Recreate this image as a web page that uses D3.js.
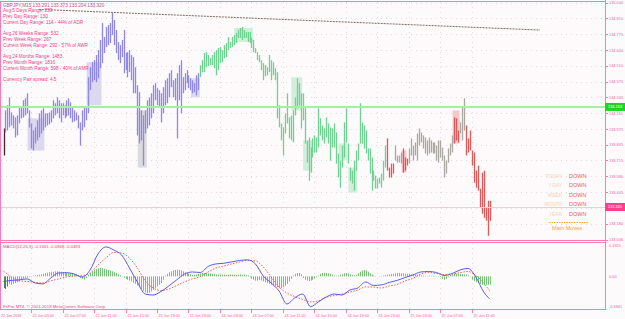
<!DOCTYPE html>
<html><head><meta charset="utf-8">
<script src="https://cdn.jsdelivr.net/npm/d3@7"></script>
<style>html,body{margin:0;padding:0;background:#fdfafc;overflow:hidden}svg{display:block}</style>
</head><body><svg id="c" width="625" height="319"></svg>
<script>
// ---------- DATA ----------
const highs = [
133.982,134.134,134.177,134.244,134.117,134.092,134.075,134.092,134.160,134.160,
134.219,134.236,134.278,134.134,134.024,133.965,133.991,134.050,134.109,134.134,
134.151,134.109,134.109,134.117,134.134,134.219,134.194,134.244,134.219,134.194,
134.194,134.177,134.219,134.236,134.202,134.160,134.134,134.117,134.092,134.033,
134.134,134.160,134.160,134.414,134.498,134.540,134.557,134.600,134.642,134.727,
134.870,134.752,134.837,134.853,134.870,134.955,134.896,134.811,134.710,134.684,
134.727,134.811,134.617,134.625,134.642,134.600,134.583,134.498,134.346,134.287,
134.134,134.092,134.134,134.219,134.244,134.278,134.346,134.363,134.321,134.304,
134.278,134.329,134.388,134.405,134.447,134.473,134.388,134.405,134.447,134.515,
134.557,134.414,134.447,134.473,134.430,134.405,134.388,134.363,134.430,134.447,
134.515,134.557,134.617,134.625,134.600,134.574,134.600,134.625,134.642,134.659,
134.667,134.642,134.684,134.701,134.752,134.710,134.752,134.769,134.786,134.811,
134.828,134.837,134.811,134.794,134.794,134.794,134.744,134.727,134.659,134.625,
134.600,134.557,134.532,134.515,134.498,134.600,134.557,134.540,134.490,134.456,
134.177,134.024,133.991,134.109,134.278,134.075,134.092,134.134,134.244,134.405,
134.363,134.278,134.278,134.160,133.881,133.906,133.821,133.898,133.923,133.906,
134.151,134.067,134.007,133.982,134.075,134.024,133.991,133.982,134.024,133.948,
133.771,133.711,133.838,134.033,134.151,133.855,133.652,133.627,133.711,133.796,
133.855,134.194,134.033,134.007,133.965,133.813,133.813,133.737,133.627,133.584,
133.559,133.568,133.601,133.711,133.838,133.898,133.652,133.686,133.686,133.838,
133.754,133.754,133.779,133.813,133.737,133.728,133.813,133.898,133.838,133.864,
133.940,133.982,133.948,133.923,133.906,133.881,133.906,133.881,133.864,133.864,
133.838,133.881,133.881,133.821,133.754,133.711,133.813,133.855,133.923,134.075,
134.067,133.965,134.033,134.160,134.236,134.007,133.898,133.965,133.796,133.779,
133.627,133.669,133.475,133.610,133.627,133.314,133.373,133.373];
const lows = [
133.754,133.948,133.965,133.991,134.007,133.982,133.906,133.923,134.024,134.067,
134.075,134.092,134.109,133.991,133.813,133.796,133.855,133.881,133.906,133.940,
133.965,133.991,134.007,134.016,134.033,134.067,134.092,134.109,134.067,134.033,
134.092,134.067,134.084,134.092,134.067,134.033,134.041,134.050,133.982,133.838,
133.965,133.991,134.050,134.109,134.304,134.371,134.388,134.371,134.405,134.490,
134.532,134.617,134.667,134.684,134.701,134.769,134.684,134.617,134.557,134.532,
134.583,134.447,134.473,134.414,134.456,134.388,134.278,134.278,133.923,133.855,
133.881,133.669,133.940,133.982,134.007,134.067,134.109,134.219,134.177,134.160,
134.033,134.109,134.177,134.194,134.244,134.329,134.244,134.219,133.898,134.219,
134.109,134.278,134.304,134.363,134.321,134.304,134.278,134.287,134.261,134.304,
134.414,134.456,134.456,134.498,134.507,134.515,134.515,134.490,134.430,134.473,
134.532,134.540,134.574,134.583,134.642,134.659,134.667,134.684,134.701,134.744,
134.744,134.727,134.744,134.744,134.710,134.701,134.659,134.625,134.617,134.557,
134.540,134.473,134.388,134.422,134.430,134.456,134.388,134.430,134.388,134.067,
133.991,133.881,133.754,133.940,134.024,133.898,133.881,133.864,134.092,134.151,
134.177,133.982,134.050,133.855,133.694,133.542,133.610,133.737,133.779,133.779,
133.821,133.923,133.881,133.855,133.906,133.855,133.711,133.821,133.821,133.686,
133.568,133.483,133.652,133.737,133.864,133.686,133.542,133.517,133.458,133.627,
133.711,133.855,133.855,133.813,133.771,133.711,133.601,133.458,133.542,133.475,
133.475,133.517,133.483,133.542,133.652,133.627,133.568,133.568,133.601,133.711,
133.694,133.694,133.686,133.610,133.627,133.669,133.686,133.754,133.711,133.754,
133.711,133.838,133.864,133.813,133.771,133.754,133.771,133.779,133.771,133.771,
133.711,133.694,133.737,133.711,133.568,133.601,133.694,133.754,133.779,133.855,
133.881,133.864,133.940,133.881,133.965,133.754,133.779,133.796,133.669,133.525,
133.483,133.458,133.314,133.263,133.229,133.204,133.077,133.204];
// bar colour state segments [firstBar, lastBar, state]
const barStates = [[0,0,'start'],[1,99,'p'],[100,194,'g'],[195,198,'r'],[199,202,'n'],[203,205,'r'],[206,228,'n'],[229,231,'r'],[232,234,'n'],[235,247,'r']];
// pale shadow boxes [firstBar, lastBar, high, low, state]
const shadowBoxes = [[13,20,134.067,133.796,'p'],[43,49,134.540,134.177,'p'],[69,72,134.134,133.652,'n'],[96,99,134.405,134.244,'p'],
  [118,126,134.828,134.710,'g'],[147,151,134.414,134.134,'g'],[153,156,133.881,133.627,'g'],[171,174,133.855,133.711,'g'],
  [176,179,133.652,133.441,'g'],[203,204,133.796,133.610,'r'],[229,231,134.134,133.855,'r']];
const osma = [
-0.070,-0.075,-0.060,-0.045,-0.050,-0.045,-0.040,-0.035,-0.030,-0.020,
-0.015,-0.010,-0.008,-0.005,0.002,0.004,0.006,0.008,0.010,0.012,
0.015,0.020,0.022,0.025,0.027,0.028,0.030,0.030,0.028,0.027,
0.025,0.025,0.022,0.020,0.020,0.018,0.015,0.012,0.008,-0.010,
-0.015,-0.018,-0.010,0.010,0.020,0.030,0.038,0.044,0.048,0.050,
0.048,0.045,0.042,0.038,0.035,0.030,0.025,0.020,0.012,0.006,
0.002,-0.008,-0.015,-0.020,-0.025,-0.030,-0.038,-0.045,-0.055,-0.065,
-0.075,-0.085,-0.095,-0.100,-0.098,-0.090,-0.080,-0.070,-0.060,-0.050,
-0.040,-0.020,0.005,0.015,0.025,0.030,0.035,0.038,0.040,0.038,
0.035,0.030,0.025,0.020,0.015,0.012,0.010,0.010,0.012,0.015,
0.018,0.020,0.020,0.020,0.018,0.018,0.015,0.015,0.012,0.012,
0.010,0.010,0.010,0.008,0.010,0.012,0.010,0.010,0.008,0.010,
0.012,0.010,0.010,0.008,0.006,-0.005,-0.015,-0.020,-0.025,-0.025,
-0.022,-0.025,-0.030,-0.035,-0.040,-0.045,-0.050,-0.055,-0.060,-0.065,
-0.070,-0.070,-0.065,-0.055,-0.045,-0.030,-0.015,0.005,0.015,0.020,
0.020,0.012,-0.010,-0.020,-0.025,-0.028,-0.025,-0.020,-0.012,-0.005,
0.005,0.015,0.020,0.022,0.020,0.018,0.015,0.010,0.006,0.004,
0.006,0.010,0.012,0.018,0.020,0.018,0.012,0.008,0.006,0.010,
0.018,0.028,0.035,0.038,0.035,0.028,0.018,0.010,0.005,0.002,
0.000,-0.003,0.002,0.005,0.008,0.010,0.012,0.014,0.016,0.018,
0.020,0.020,0.018,0.018,0.016,0.015,0.014,0.012,0.012,0.010,
0.010,0.008,0.006,0.004,0.003,0.003,0.004,0.003,0.002,0.002,
0.002,0.001,-0.004,-0.015,-0.020,-0.015,-0.005,0.008,0.012,0.015,
0.016,0.015,0.015,0.014,0.012,0.010,0.006,0.002,-0.020,-0.028,
-0.035,-0.040,-0.045,-0.050,-0.052,-0.050,-0.050,-0.049];
// MACD main / signal sampled every 4th bar (plus the last bar)
const macdBars = d3.range(0, 245, 4).concat([247]);
const macdMain = [-0.030,-0.024,-0.021,-0.015,-0.039,-0.045,-0.010,0.020,0.022,0.014,-0.004,0.038,0.133,0.175,0.157,0.127,0.050,-0.033,-0.105,-0.111,-0.090,-0.057,-0.021,0.014,0.026,0.023,0.059,0.074,0.078,0.086,0.095,0.098,0.074,0.002,-0.039,-0.087,-0.164,-0.128,-0.105,-0.180,-0.152,-0.123,-0.105,-0.111,-0.081,-0.069,-0.033,-0.054,-0.051,-0.036,-0.024,-0.007,0.008,0.026,0.029,0.023,0.005,0.017,0.038,0.047,-0.004,-0.093,-0.134];
const macdSignal = [0.032,-0.004,-0.027,-0.030,-0.036,-0.039,-0.027,-0.015,-0.004,0.002,0.005,0.020,0.068,0.109,0.142,0.139,0.109,0.050,-0.027,-0.069,-0.084,-0.075,-0.054,-0.033,-0.015,-0.001,0.026,0.050,0.062,0.074,0.086,0.095,0.092,0.056,-0.004,-0.063,-0.099,-0.120,-0.137,-0.152,-0.146,-0.123,-0.114,-0.105,-0.093,-0.081,-0.063,-0.063,-0.069,-0.057,-0.048,-0.027,-0.012,0.014,0.023,0.017,0.011,0.014,0.022,0.029,0.005,-0.039,-0.085];
const priceTicks = [135.040,134.910,134.775,134.640,134.510,134.375,134.245,134.110,133.975,133.845,133.715,133.580,133.445,133.315,133.180,133.046];
const timeTicks = [[0,"22 Jun 2018"],[14,"22 Jun 03:00"],[30,"22 Jun 07:00"],[46,"22 Jun 11:00"],[62,"22 Jun 15:00"],[78,"22 Jun 19:00"],[94,"22 Jun 23:00"],
  [110,"24 Jun 03:00"],[126,"24 Jun 07:00"],[142,"24 Jun 11:00"],[158,"24 Jun 15:00"],[174,"24 Jun 19:00"],[190,"24 Jun 23:00"],
  [206,"25 Jun 03:00"],[222,"25 Jun 07:00"],[238,"25 Jun 11:00"]];
const macdTicks = [[0.1925,"0.1925"],[0,"0.00"],[-0.1941,"-0.1941"]];
const levelLine = 134.163;   // horizontal level
const bidPrice = 133.320;
const trendPoints = [[18,134.985],[272.6,134.811]];
const headerText = "GBPJPY,M15  133.291 133.373 133.204 133.320";
const infoLines = [["Avg 5 Days Range: 259",0],["Prev Day Range: 130",1],["Current Day Range: 114 - 44% of ADR",2],
  ["Avg 26 Weeks Range: 532",4],["Prev Week Range: 267",5],["Current Week Range: 292 - 57% of AWR",6],
  ["Avg 24 Months Range: 1483",8],["Prev Month Range: 1816",9],["Current Month Range: 598 - 40% of AMR",10],
  ["Currency Pair spread: 4.5",12]];
const moveLabels = ["TODAY","Y-DAY","WEEK","MONTH","YEAR"];
const moveStates = ["DOWN","DOWN","DOWN","DOWN","DOWN"];
const macdTitle = "MACD(12,26,9) -0.1341 -0.0848 -0.0493";
const copyright = "FxPro MT4, © 2001-2018 MetaQuotes Software Corp.";

// ---------- STYLE ----------
const FONT = "'Liberation Sans', Arial, sans-serif";
const PINK = "#ff7ab6", TXT = "#ee3f8d", AX = "#f25c9f";
const stateColor = {start:'#4a1e2c', p:'#9088e2', g:'#70d292', r:'#e25858', n:'#a9a9a2'};
const boxColor = {p:'#dcd8ef', g:'#d2eedb', r:'#f4c9c9', n:'#dddcdc'};

const svg = d3.select('#c');
const W = 625, H = 319, R = 605;
const xs = d3.scaleLinear().domain([0, highs.length - 1]).range([3.5, 489.6]);
const ys = d3.scaleLinear().domain([133.042, 135.064]).range([240, 0]);
const ms = d3.scaleLinear().domain([-0.1941, 0.1925]).range([309, 244]);
const px = i => Math.round(xs(i)) + 0.5;

svg.append('rect').attr('width', W).attr('height', H).attr('fill', '#fdfafc');

// grid
const grid = svg.append('g').attr('stroke', '#e9d6e1').attr('stroke-dasharray', '1,4').attr('stroke-width', 1);
priceTicks.forEach(p => grid.append('line').attr('x1', 1).attr('x2', R).attr('y1', Math.round(ys(p)) + 0.5).attr('y2', Math.round(ys(p)) + 0.5));
timeTicks.slice(1).forEach(([i]) => {
  grid.append('line').attr('x1', px(i)).attr('x2', px(i)).attr('y1', 2).attr('y2', 240);
  grid.append('line').attr('x1', px(i)).attr('x2', px(i)).attr('y1', 243).attr('y2', 309);
});

// shadow boxes
svg.append('g').selectAll('rect').data(shadowBoxes).join('rect')
  .attr('x', d => xs(d[0]) - 1.5).attr('width', d => xs(d[1]) - xs(d[0]) + 3)
  .attr('y', d => ys(d[2])).attr('height', d => ys(d[3]) - ys(d[2]))
  .attr('fill', d => boxColor[d[4]]);

// bars
const stateOf = i => barStates.find(s => i >= s[0] && i <= s[1])[2];
svg.append('g').selectAll('line').data(highs.map((h, i) => ({i, h, l: lows[i]}))).join('line')
  .attr('x1', d => px(d.i)).attr('x2', d => px(d.i))
  .attr('y1', d => ys(d.h)).attr('y2', d => ys(d.l))
  .attr('stroke', d => stateColor[stateOf(d.i)]).attr('stroke-width', 1.3);

// horizontal level lines
svg.append('line').attr('x1', 1).attr('x2', R).attr('y1', ys(levelLine)).attr('y2', ys(levelLine))
  .attr('stroke', '#a3f0a3').attr('stroke-width', 2);
svg.append('line').attr('x1', 1).attr('x2', R).attr('y1', Math.round(ys(bidPrice)) + 0.5).attr('y2', Math.round(ys(bidPrice)) + 0.5)
  .attr('stroke', '#e6d0d8').attr('stroke-width', 1);

// dotted trendline
svg.append('line').attr('x1', xs(trendPoints[0][0])).attr('y1', ys(trendPoints[0][1]))
  .attr('x2', xs(trendPoints[1][0])).attr('y2', ys(trendPoints[1][1]))
  .attr('stroke', '#7c6a62').attr('stroke-width', 1).attr('stroke-dasharray', '2,1');

// info texts
svg.append('text').attr('x', 3).attr('y', 6.6).attr('font-family', FONT).attr('font-size', 4.7)
  .attr('fill', '#c9508a').text(headerText);
svg.append('g').selectAll('text').data(infoLines).join('text')
  .attr('x', 3).attr('y', d => 12.2 + d[1] * 5.75).attr('font-family', FONT).attr('font-size', 4.7)
  .attr('fill', TXT).text(d => d[0]);

// main moves legend
const lg = svg.append('g').attr('font-family', FONT);
moveLabels.forEach((t, k) => {
  const y = 177.5 + k * 9.6;
  lg.append('text').attr('x', 562).attr('y', y).attr('text-anchor', 'end').attr('font-size', 4.8).attr('fill', '#f6d3b4').text(t);
  lg.append('text').attr('x', 569).attr('y', y).attr('font-size', 5.5).attr('fill', '#ef5a5a').text(moveStates[k]);
});
lg.append('line').attr('x1', 549).attr('x2', 588).attr('y1', 222.5).attr('y2', 222.5).attr('stroke', '#f3a744').attr('stroke-dasharray', '1.5,1');
lg.append('text').attr('x', 552).attr('y', 230).attr('font-size', 5.6).attr('fill', '#f3a23c').text('Main Moves');

// MACD histogram
svg.append('g').selectAll('line').data(osma).join('line')
  .attr('x1', (d, i) => px(i)).attr('x2', (d, i) => px(i))
  .attr('y1', ms(0)).attr('y2', d => ms(d))
  .attr('stroke', (d, i) => i < 3 ? '#3f8f3f' : '#76c276').attr('stroke-width', 1);
// MACD lines
const lineGen = d3.line().x(d => xs(d[0])).y(d => ms(d[1])).curve(d3.curveMonotoneX);
svg.append('path').attr('d', lineGen(macdBars.map((b, k) => [b, macdSignal[k]])))
  .attr('fill', 'none').attr('stroke', '#f25a5a').attr('stroke-width', 1).attr('stroke-dasharray', '1.5,1.5');
svg.append('path').attr('d', lineGen(macdBars.map((b, k) => [b, macdMain[k]])))
  .attr('fill', 'none').attr('stroke', '#5a5ae6').attr('stroke-width', 1);
svg.append('text').attr('x', 3).attr('y', 248.3).attr('font-family', FONT).attr('font-size', 4.3).attr('fill', TXT).text(macdTitle);
svg.append('text').attr('x', 3).attr('y', 307.5).attr('font-family', FONT).attr('font-size', 4.3).attr('fill', TXT).text(copyright);

// frame
const fr = svg.append('g').attr('stroke', PINK).attr('stroke-width', 1);
fr.append('line').attr('x1', 0).attr('x2', R).attr('y1', 1.5).attr('y2', 1.5);
fr.append('line').attr('x1', 0.5).attr('x2', 0.5).attr('y1', 1).attr('y2', 310);
fr.append('line').attr('x1', R + 0.5).attr('x2', R + 0.5).attr('y1', 0).attr('y2', 310);
fr.append('line').attr('x1', 0).attr('x2', R).attr('y1', 240.5).attr('y2', 240.5);
fr.append('line').attr('x1', 0).attr('x2', R).attr('y1', 242.5).attr('y2', 242.5);
fr.append('line').attr('x1', 0).attr('x2', R + 1).attr('y1', 309.5).attr('y2', 309.5);

// right price axis
const ra = svg.append('g').attr('font-family', FONT).attr('font-size', 3.9).attr('fill', AX);
priceTicks.forEach(p => {
  const y = ys(p);
  ra.append('line').attr('x1', R).attr('x2', R + 3).attr('y1', Math.round(y) + 0.5).attr('y2', Math.round(y) + 0.5).attr('stroke', PINK);
  ra.append('text').attr('x', 609).attr('y', y + 1.4).text(p.toFixed(3));
});
macdTicks.forEach(([v, t]) => {
  ra.append('text').attr('x', 609).attr('y', Math.min(Math.max(ms(v), 246), 307) + 1.4).text(t);
});
// level price tags
[[levelLine, '#1fd41f'], [bidPrice, '#ff3d8b']].forEach(([p, c]) => {
  const y = ys(p);
  svg.append('rect').attr('x', R).attr('y', y - 4).attr('width', 20).attr('height', 8).attr('fill', c);
  svg.append('text').attr('x', 608).attr('y', y + 1.4).attr('font-family', FONT).attr('font-size', 3.9).attr('fill', '#ffffff').text(p.toFixed(3));
});

// time axis
const ta = svg.append('g').attr('font-family', FONT).attr('font-size', 3.7).attr('fill', AX);
timeTicks.forEach(([i, t], k) => {
  if (k > 0) ta.append('line').attr('x1', px(i)).attr('x2', px(i)).attr('y1', 310).attr('y2', 313).attr('stroke', PINK);
  ta.append('text').attr('x', k === 0 ? 1 : px(i) + 1).attr('y', 316.5).text(t);
});
</script></body></html>
